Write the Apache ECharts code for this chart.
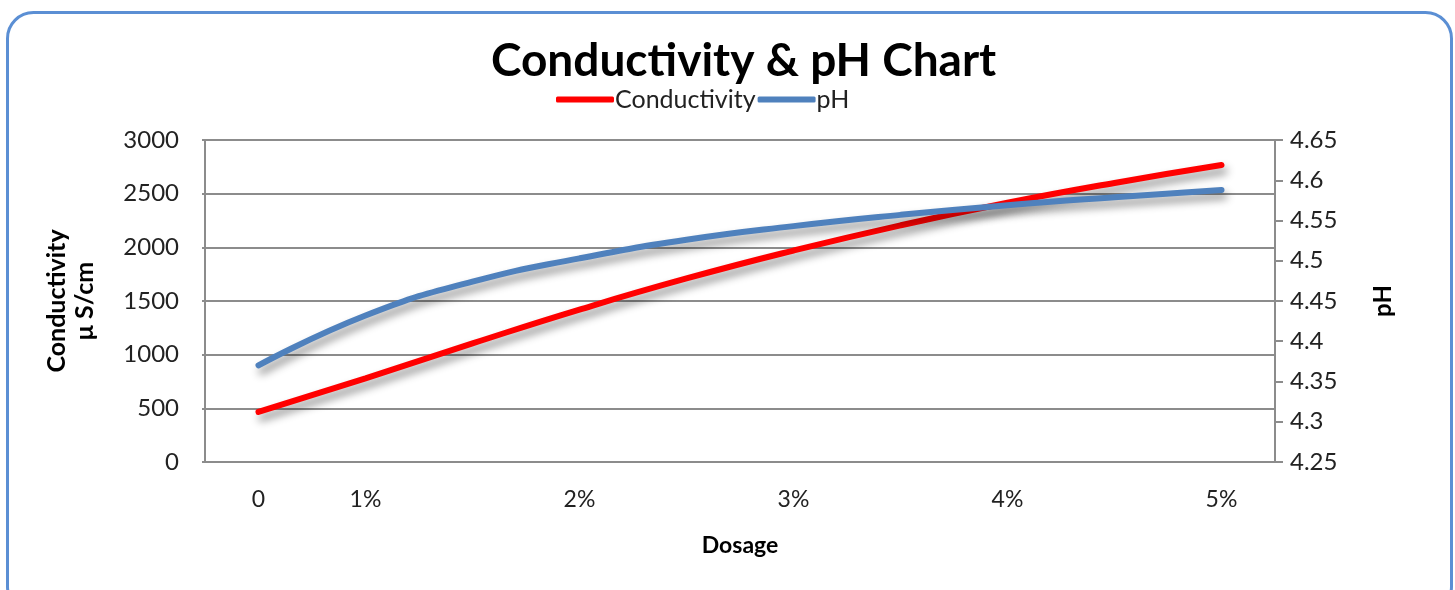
<!DOCTYPE html>
<html>
<head>
<meta charset="utf-8">
<script src="https://cdn.jsdelivr.net/npm/echarts@6/dist/echarts.min.js"></script>
<style>
html,body{margin:0;padding:0;background:#fff;}
#chart{width:1455px;height:590px;}
</style>
</head>
<body>
<div id="chart"></div>
<script>
const dosage = ['0', '1%', '', '2%', '', '3%', '', '4%', '', '5%'];
const conductivity = [466, 780, 1105, 1420, 1710, 1970, 2205, 2415, 2600, 2767];
const ph = [4.370, 4.432, 4.474, 4.503, 4.526, 4.543, 4.557, 4.569, 4.579, 4.588];
const leftTicks = { min: 0, max: 3000, interval: 500 };
const rightTicks = { min: 4.25, max: 4.65, interval: 0.05 };

const FONT = 'Lato';
const chart = echarts.init(document.getElementById('chart'));
const shadow = { shadowColor: 'rgba(0,0,0,0.45)', shadowBlur: 8, shadowOffsetX: 3, shadowOffsetY: 6 };

chart.setOption({
  backgroundColor: '#fff',
  animation: false,
  textStyle: { fontFamily: FONT },
  graphic: [{
    type: 'rect', left: 5, top: 10,
    shape: { width: 1444, height: 600, r: 26 },
    style: { fill: 'none', stroke: '#5b8fd4', lineWidth: 3 },
    z: -1
  }],
  title: {
    text: 'Conductivity & pH Chart',
    left: 486, top: 33,
    textStyle: { fontFamily: FONT, fontSize: 46, fontWeight: 'bold', color: '#000' }
  },
  legend: {
    top: 82, left: 551,
    itemWidth: 58, itemHeight: 6, itemGap: 2,
    icon: 'roundRect',
    textStyle: { fontFamily: FONT, fontSize: 25, color: '#222', padding: [0, 0, 0, -4] },
    data: ['Conductivity', 'pH']
  },
  grid: { left: 205, right: 180, top: 140, bottom: 128 },
  xAxis: {
    type: 'category',
    data: dosage,
    boundaryGap: true,
    axisLine: { show: true, lineStyle: { color: '#8c8c8c', width: 2 } },
    axisTick: { show: false },
    axisLabel: { interval: 0, margin: 26, fontSize: 23, color: '#222', fontFamily: FONT },
    name: 'Dosage', nameLocation: 'middle', nameGap: 72,
    nameTextStyle: { fontSize: 23, fontWeight: 'bold', color: '#000', fontFamily: FONT }
  },
  yAxis: [{
    type: 'value', position: 'left',
    min: leftTicks.min, max: leftTicks.max, interval: leftTicks.interval,
    axisLine: { show: true, lineStyle: { color: '#8c8c8c', width: 2 } },
    axisTick: { show: true, length: 3, lineStyle: { color: '#8c8c8c', width: 2 } },
    splitLine: { show: true, lineStyle: { color: '#8c8c8c', width: 2 } },
    axisLabel: { margin: 26, fontSize: 24, color: '#222', fontFamily: FONT, formatter: v => String(v) },
    name: 'Conductivity\nμ S/cm', nameLocation: 'middle', nameRotate: 90, nameGap: 106,
    nameTextStyle: { fontSize: 25, fontWeight: 'bold', color: '#000', lineHeight: 28, fontFamily: FONT }
  }, {
    type: 'value', position: 'right',
    min: rightTicks.min, max: rightTicks.max, interval: rightTicks.interval,
    axisLine: { show: true, lineStyle: { color: '#8c8c8c', width: 2 } },
    axisTick: { show: true, length: 8, lineStyle: { color: '#8c8c8c', width: 2 } },
    splitLine: { show: false },
    axisLabel: { margin: 15, fontSize: 24, color: '#222', fontFamily: FONT,
      formatter: v => String(parseFloat(v.toFixed(2))) },
    name: 'pH', nameLocation: 'middle', nameRotate: 90, nameGap: 96,
    nameTextStyle: { fontSize: 24, fontWeight: 'bold', color: '#000', fontFamily: FONT }
  }],
  series: [{
    name: 'Conductivity', type: 'line', yAxisIndex: 0,
    data: conductivity, smooth: 0.5, showSymbol: false, symbol: 'none',
    itemStyle: { color: '#ff0000' },
    lineStyle: Object.assign({ color: '#ff0000', width: 6, cap: 'round' }, shadow)
  }, {
    name: 'pH', type: 'line', yAxisIndex: 1,
    data: ph, smooth: 0.5, showSymbol: false, symbol: 'none',
    itemStyle: { color: '#4f81bd' },
    lineStyle: Object.assign({ color: '#4f81bd', width: 6, cap: 'round' }, shadow)
  }]
});
</script>
</body>
</html>
